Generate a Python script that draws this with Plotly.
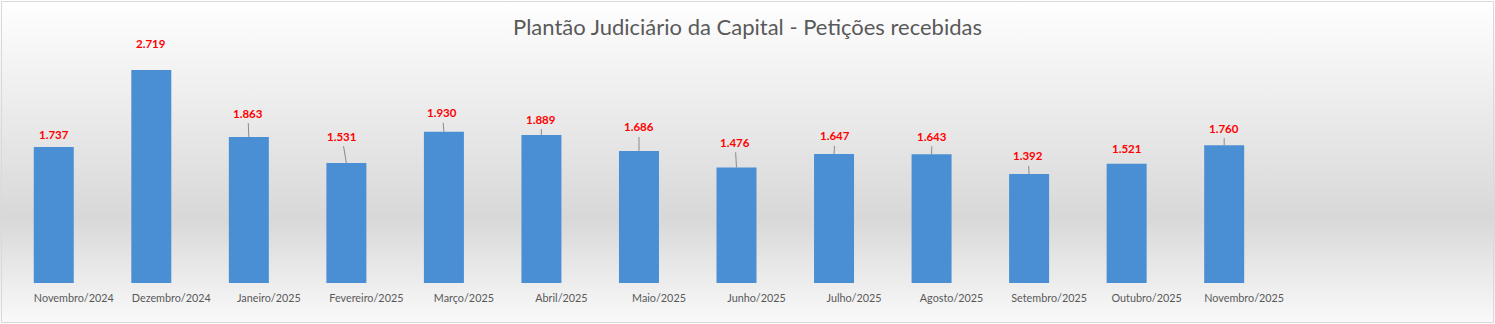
import base64
import plotly.graph_objects as go

# ---------------- data ----------------
months = ["Novembro/2024", "Dezembro/2024", "Janeiro/2025", "Fevereiro/2025", "Março/2025",
          "Abril/2025", "Maio/2025", "Junho/2025", "Julho/2025", "Agosto/2025",
          "Setembro/2025", "Outubro/2025", "Novembro/2025"]
peticoes = [1737, 2719, 1863, 1531, 1930, 1889, 1686, 1476, 1647, 1643, 1392, 1521, 1760]
value_labels = ["1.737", "2.719", "1.863", "1.531", "1.930", "1.889", "1.686",
                "1.476", "1.647", "1.643", "1.392", "1.521", "1.760"]

# label placement (pixel offsets from bar top centre) and leader-line flags
label_dx = [0, 0, -1, -4.5, -1.5, -0.5, 0, -1.5, 1, 0.5, -1, 0, 0]
label_dy = [12, 27, 24, 27, 19, 16, 24, 25, 18, 18, 18, 15, 17]
leader = [False, False, True, True, True, True, True, True, True, True, True, False, True]

# ---------------- layout geometry ----------------
W, H = 1495, 324
ML, MR, MT, MB = 25, 7, 48, 41
PW, PH = W - ML - MR, H - MT - MB
N_SLOTS = 15
BAR_W = 0.41

xs = list(range(len(months)))

fig = go.Figure()
fig.add_trace(go.Bar(
    x=xs, y=peticoes,
    width=BAR_W, offset=-BAR_W,
    marker=dict(color="#4a8fd3", line=dict(width=0)),
    hoverinfo="skip",
))

annotations = []
for i, (v, t) in enumerate(zip(peticoes, value_labels)):
    annotations.append(dict(
        x=i - BAR_W / 2, y=v, xref="x", yref="y",
        text=t, showarrow=True, arrowhead=0, arrowwidth=1,
        arrowcolor="#8a8a8a" if leader[i] else "rgba(0,0,0,0)",
        ax=label_dx[i], ay=-label_dy[i], borderpad=3,
        font=dict(family="Lato", size=11.5, color="#ff0000", weight="bold"),
    ))

svg = (
    f'<svg xmlns="http://www.w3.org/2000/svg" width="{W}" height="{H}" '
    f'viewBox="0 0 {W} {H}" preserveAspectRatio="none">'
    '<defs><linearGradient id="g" x1="0" y1="0" x2="0" y2="1">'
    '<stop offset="0" stop-color="#ffffff"/>'
    '<stop offset="0.673" stop-color="#d8d8d8"/>'
    '<stop offset="1" stop-color="#fafafa"/>'
    '</linearGradient></defs>'
    f'<rect width="{W}" height="{H}" fill="url(#g)"/></svg>'
)
src = "data:image/svg+xml;base64," + base64.b64encode(svg.encode()).decode()

fig.update_layout(
    width=W, height=H,
    margin=dict(l=ML, r=MR, t=MT, b=MB, pad=0),
    paper_bgcolor="#ffffff",
    plot_bgcolor="rgba(0,0,0,0)",
    showlegend=False,
    title=dict(
        text="Plantão Judiciário da Capital - Petições recebidas",
        x=0.5, xref="container", xanchor="center",
        y=1 - 27 / H, yref="container", yanchor="middle",
        font=dict(family="Lato", size=22, color="#595959"),
    ),
    xaxis=dict(
        range=[-0.5, N_SLOTS - 0.5],
        tickmode="array", tickvals=xs, ticktext=months,
        showgrid=False, zeroline=False, showline=False, ticks="",
        tickfont=dict(family="Lato", size=10.8, color="#595959"),
        ticklabelstandoff=7,
        fixedrange=True,
    ),
    yaxis=dict(range=[0, 3000], visible=False, fixedrange=True),
    annotations=annotations,
    images=[dict(
        source=src, xref="paper", yref="paper",
        x=-ML / PW, y=1 + MT / PH, sizex=W / PW, sizey=H / PH,
        xanchor="left", yanchor="top", sizing="stretch", layer="below",
    )],
    shapes=[dict(
        type="rect", xref="paper", yref="paper",
        x0=(1.5 - ML) / PW, x1=(W - 1.5 - ML) / PW,
        y0=1 - (H - 1.5 - MT) / PH, y1=1 + (MT - 1.5) / PH,
        line=dict(color="#d9d9d9", width=1), fillcolor="rgba(0,0,0,0)",
    )],
)

fig.write_html("out.html", config={"displayModeBar": False})
